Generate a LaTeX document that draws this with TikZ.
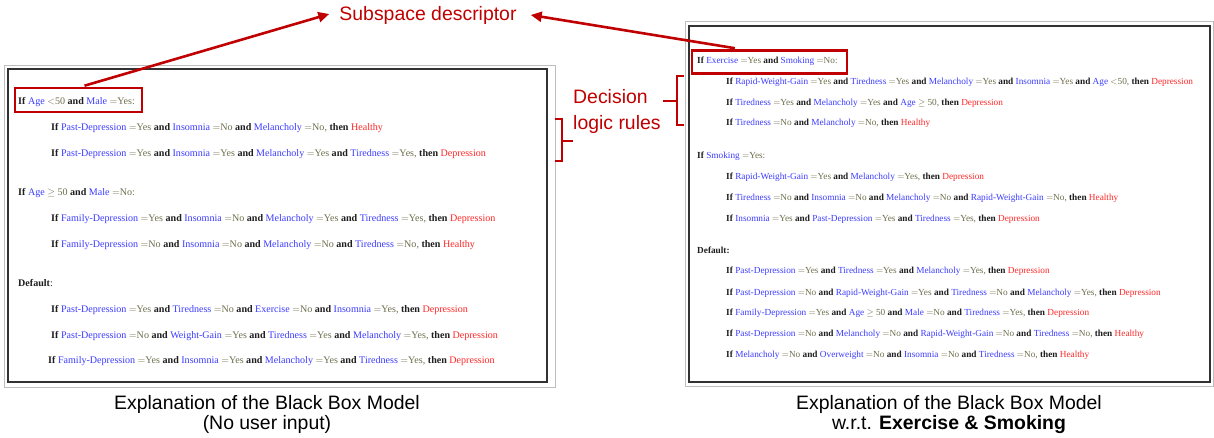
\documentclass[tikz,border=0pt]{standalone}
\usepackage{fontspec}
\setmainfont{Liberation Serif}
\newfontfamily\arialf{Liberation Sans}
\usetikzlibrary{arrows.meta,calc}
\definecolor{darkred}{RGB}{192,0,0}
\definecolor{varblue}{RGB}{60,60,255}
\definecolor{valolive}{RGB}{110,110,78}
\definecolor{resred}{RGB}{255,40,40}
\definecolor{kwdark}{RGB}{30,30,30}
\definecolor{outergray}{RGB}{190,190,190}
\definecolor{innerdark}{RGB}{50,50,50}
\newcommand\kw[1]{\textcolor{kwdark}{\textbf{#1}}}
\newcommand\varn[1]{\textcolor{varblue}{#1}}
\newcommand\valn[1]{\textcolor{valolive}{#1}}
\newcommand\resn[1]{\textcolor{resred}{#1}}
\newcommand\cnd[2]{\varn{#1} \valn{$=$#2}}
\tikzset{
  lrule/.style={anchor=base west, inner sep=0pt, font=\fontsize{10.1}{12}\selectfont},
  rrule/.style={anchor=base west, inner sep=0pt, font=\fontsize{9.3}{11}\selectfont},
  outerframe/.style={draw=outergray, line width=0.8pt},
  innerframe/.style={draw=innerdark, line width=1.3pt},
  redbox/.style={draw=darkred, line width=2.6pt, inner sep=0pt},
  redarrow/.style={draw=darkred, line width=2.6pt, -{Triangle[length=11pt,width=10pt]}},
  bracket/.style={draw=darkred, line width=1.8pt},
  annot/.style={text=darkred, font=\arialf\fontsize{19.5}{23}\selectfont, inner sep=0pt},
  caption/.style={font=\arialf\fontsize{19.5}{21}\selectfont, inner sep=0pt, text=black, align=center}
}
\begin{document}
\begin{tikzpicture}[x=1bp,y=-1bp]
\useasboundingbox[fill=white] (0,0) rectangle (1214,438);
% frames
\draw[outerframe] (4,65) rectangle (555,387);
\draw[innerframe] (8,69) rectangle (547,382);
\draw[outerframe] (685,21) rectangle (1213,386);
\draw[innerframe] (689,26) rectangle (1210,382);
% red boxes
\node[redbox, minimum width=127bp, minimum height=24bp] (lbox) at (78.5,100) {};
\node[redbox, minimum width=155bp, minimum height=23bp] (rbox) at (769.5,62) {};
% left rules
\node[lrule] (l1) at (18,105) {\kw{If} \varn{Age} \valn{$<$50} \kw{and} \cnd{Male}{Yes:}};
\node[lrule] (l2) at (51,131) {\kw{If} \cnd{Past-Depression}{Yes} \kw{and} \cnd{Insomnia}{No} \kw{and} \cnd{Melancholy}{No,} \kw{then} \resn{Healthy}};
\node[lrule] (l3) at (51,157) {\kw{If} \cnd{Past-Depression}{Yes} \kw{and} \cnd{Insomnia}{Yes} \kw{and} \cnd{Melancholy}{Yes} \kw{and} \cnd{Tiredness}{Yes,} \kw{then} \resn{Depression}};
\node[lrule] (l4) at (18,196) {\kw{If} \varn{Age} \valn{$\geq$ 50} \kw{and} \cnd{Male}{No:}};
\node[lrule] (l5) at (51,222) {\kw{If} \cnd{Family-Depression}{Yes} \kw{and} \cnd{Insomnia}{No} \kw{and} \cnd{Melancholy}{Yes} \kw{and} \cnd{Tiredness}{Yes,} \kw{then} \resn{Depression}};
\node[lrule] (l6) at (51,247.5) {\kw{If} \cnd{Family-Depression}{No} \kw{and} \cnd{Insomnia}{No} \kw{and} \cnd{Melancholy}{No} \kw{and} \cnd{Tiredness}{No,} \kw{then} \resn{Healthy}};
\node[lrule] (l7) at (18,287) {\kw{Default}\textcolor{kwdark}{:}};
\node[lrule] (l8) at (51,313) {\kw{If} \cnd{Past-Depression}{Yes} \kw{and} \cnd{Tiredness}{No} \kw{and} \cnd{Exercise}{No} \kw{and} \cnd{Insomnia}{Yes,} \kw{then} \resn{Depression}};
\node[lrule] (l9) at (51,338.5) {\kw{If} \cnd{Past-Depression}{No} \kw{and} \cnd{Weight-Gain}{Yes} \kw{and} \cnd{Tiredness}{Yes} \kw{and} \cnd{Melancholy}{Yes,} \kw{then} \resn{Depression}};
\node[lrule] (l10) at (48,364) {\kw{If} \cnd{Family-Depression}{Yes} \kw{and} \cnd{Insomnia}{Yes} \kw{and} \cnd{Melancholy}{Yes} \kw{and} \cnd{Tiredness}{Yes,} \kw{then} \resn{Depression}};
% right rules
\node[rrule] (r1) at (697,63.5) {\kw{If} \cnd{Exercise}{Yes} \kw{and} \cnd{Smoking}{No:}};
\node[rrule] (r2) at (726,85) {\kw{If} \cnd{Rapid-Weight-Gain}{Yes} \kw{and} \cnd{Tiredness}{Yes} \kw{and} \cnd{Melancholy}{Yes} \kw{and} \cnd{Insomnia}{Yes} \kw{and} \varn{Age} \valn{$<$50,} \kw{then} \resn{Depression}};
\node[rrule] (r3) at (726,105.5) {\kw{If} \cnd{Tiredness}{Yes} \kw{and} \cnd{Melancholy}{Yes} \kw{and} \varn{Age} \valn{$\geq$ 50,} \kw{then} \resn{Depression}};
\node[rrule] (r4) at (726,126) {\kw{If} \cnd{Tiredness}{No} \kw{and} \cnd{Melancholy}{No,} \kw{then} \resn{Healthy}};
\node[rrule] (r5) at (697,158.5) {\kw{If} \cnd{Smoking}{Yes:}};
\node[rrule] (r6) at (726,179.5) {\kw{If} \cnd{Rapid-Weight-Gain}{Yes} \kw{and} \cnd{Melancholy}{Yes,} \kw{then} \resn{Depression}};
\node[rrule] (r7) at (726,200.5) {\kw{If} \cnd{Tiredness}{No} \kw{and} \cnd{Insomnia}{No} \kw{and} \cnd{Melancholy}{No} \kw{and} \cnd{Rapid-Weight-Gain}{No,} \kw{then} \resn{Healthy}};
\node[rrule] (r8) at (726,221.5) {\kw{If} \cnd{Insomnia}{Yes} \kw{and} \cnd{Past-Depression}{Yes} \kw{and} \cnd{Tiredness}{Yes,} \kw{then} \resn{Depression}};
\node[rrule] (r9) at (697,253.5) {\kw{Default}\textcolor{kwdark}{\textbf{:}}};
\node[rrule] (r10) at (726,274) {\kw{If} \cnd{Past-Depression}{Yes} \kw{and} \cnd{Tiredness}{Yes} \kw{and} \cnd{Melancholy}{Yes,} \kw{then} \resn{Depression}};
\node[rrule] (r11) at (726,295.5) {\kw{If} \cnd{Past-Depression}{No} \kw{and} \cnd{Rapid-Weight-Gain}{Yes} \kw{and} \cnd{Tiredness}{No} \kw{and} \cnd{Melancholy}{Yes,} \kw{then} \resn{Depression}};
\node[rrule] (r12) at (726,316) {\kw{If} \cnd{Family-Depression}{Yes} \kw{and} \varn{Age} \valn{$\geq$ 50} \kw{and} \cnd{Male}{No} \kw{and} \cnd{Tiredness}{Yes,} \kw{then} \resn{Depression}};
\node[rrule] (r13) at (726,336.5) {\kw{If} \cnd{Past-Depression}{No} \kw{and} \cnd{Melancholy}{No} \kw{and} \cnd{Rapid-Weight-Gain}{No} \kw{and} \cnd{Tiredness}{No,} \kw{then} \resn{Healthy}};
\node[rrule] (r14) at (726,358) {\kw{If} \cnd{Melancholy}{No} \kw{and} \cnd{Overweight}{No} \kw{and} \cnd{Insomnia}{No} \kw{and} \cnd{Tiredness}{No,} \kw{then} \resn{Healthy}};
% annotations
\node[annot, align=center] (sub) at (428,15) {Subspace descriptor};
\node[annot, align=left, anchor=west] (dec) at (573,111.5) {Decision\\[3pt]logic rules};
\draw[redarrow] ($(lbox.north)+(6,-1)$) -- ($(sub.west)+(-10,-1)$);
\draw[redarrow] ($(rbox.north west)!0.28!(rbox.north east)+(0,-1)$) -- ($(sub.east)+(14,0)$);
% brackets
\draw[bracket] (555,119) -- (562,119) -- (562,161) -- (555,161);
\draw[bracket] (562,141) -- (573,141);
\draw[bracket] (684,76) -- (677,76) -- (677,125) -- (684,125);
\draw[bracket] (677,101) -- (663,101);
% captions
\node[caption] (capl) at (267,414.5) {Explanation of the Black Box Model\\(No user input)};
\node[caption] (capr) at (949,414.5) {Explanation of the Black Box Model\\w.r.t. \textbf{Exercise \& Smoking}};
\end{tikzpicture}
\end{document}
